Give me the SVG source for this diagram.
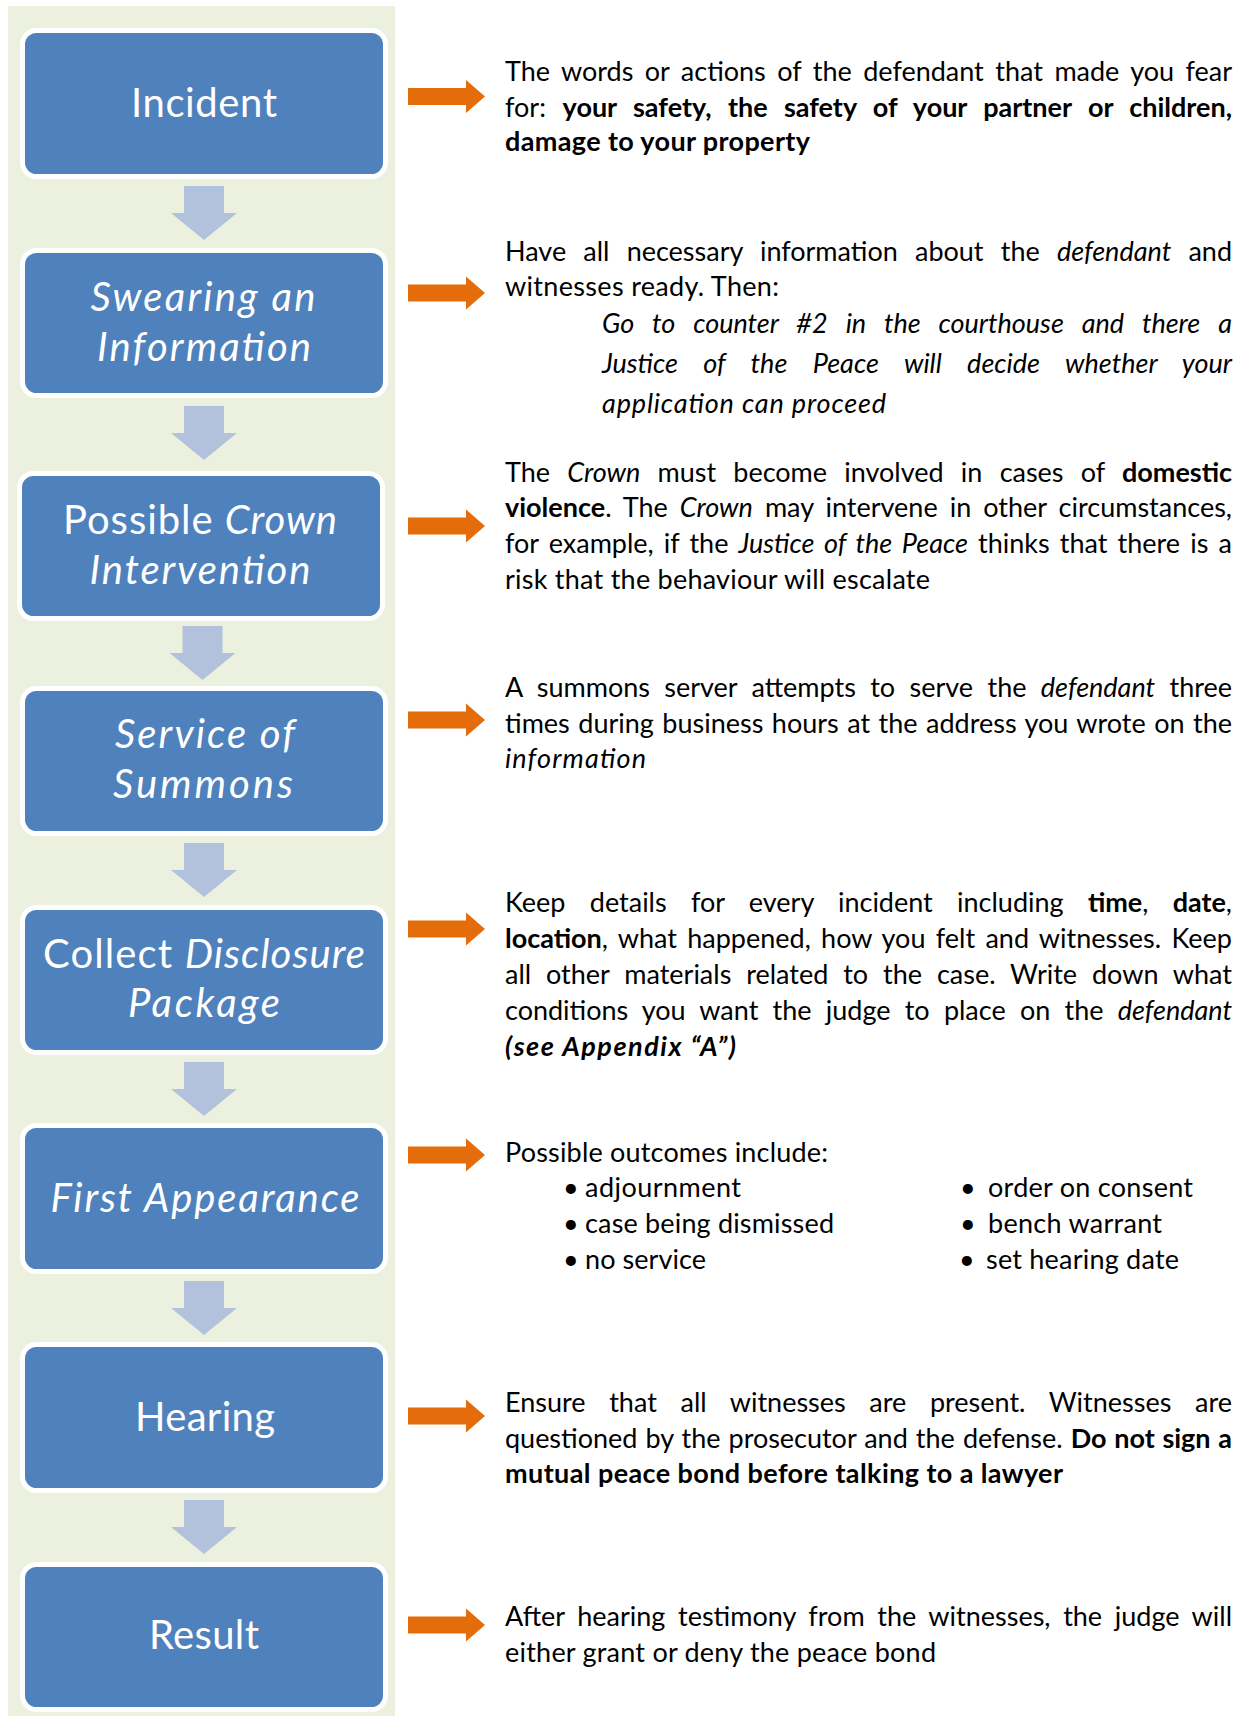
<svg xmlns="http://www.w3.org/2000/svg" xmlns:xlink="http://www.w3.org/1999/xlink" width="1242" height="1716" viewBox="0 0 1242 1716">
<style>
.bg{fill:#EBF1DE}
.box{fill:#4F81BD;stroke:#FFFFFF;stroke-width:5}
.bt{font-family:Lato,"Open Sans",sans-serif;font-size:40px;fill:#FFFFFF;text-anchor:middle}
.t{font-family:Lato,"Open Sans",sans-serif;font-size:27px;fill:#000000}
.i{font-style:italic}
.b{font-weight:bold}
.dn{fill:#B2C2DC}
.or{fill:#E46C0A}
</style>
<defs>
<path id="down" d="M-20,0 H20 V27 H33 L0,54 L-33,27 H-20 Z"/>
<path id="right" d="M0,-8.5 H58 V-16.5 L77,0 L58,16.5 V8.5 H0 Z"/>
</defs>
<rect class="bg" x="8" y="6" width="387" height="1710"/>

<g id="connectors">
<use xlink:href="#down" class="dn" x="204" y="186"/>
<use xlink:href="#down" class="dn" x="204" y="406"/>
<use xlink:href="#down" class="dn" x="202.5" y="626"/>
<use xlink:href="#down" class="dn" x="204" y="843"/>
<use xlink:href="#down" class="dn" x="204" y="1062"/>
<use xlink:href="#down" class="dn" x="204" y="1281"/>
<use xlink:href="#down" class="dn" x="204" y="1500"/>
<use xlink:href="#right" class="or" x="408" y="96.5"/>
<use xlink:href="#right" class="or" x="408" y="293"/>
<use xlink:href="#right" class="or" x="408" y="526"/>
<use xlink:href="#right" class="or" x="408" y="720"/>
<use xlink:href="#right" class="or" x="408" y="929"/>
<use xlink:href="#right" class="or" x="408" y="1155"/>
<use xlink:href="#right" class="or" x="408" y="1416"/>
<use xlink:href="#right" class="or" x="408" y="1625"/>
</g>

<g id="incident">
<rect class="box" x="22.5" y="30.5" width="363" height="146" rx="14"/>
<text class="bt" x="204" y="117" textLength="146">Incident</text>
</g>
<g id="swearing">
<rect class="box" x="22.5" y="250.5" width="363" height="145" rx="14"/>
<text class="bt i" x="203" y="311" textLength="225">Swearing an</text>
<text class="bt i" x="204" y="361" textLength="214">Information</text>
</g>
<g id="crown">
<rect class="box" x="19.5" y="473.5" width="363" height="145" rx="14"/>
<text class="bt" x="200" y="534" textLength="274">Possible <tspan class="i">Crown</tspan></text>
<text class="bt i" x="200" y="584" textLength="221">Intervention</text>
</g>
<g id="service">
<rect class="box" x="22.5" y="688.5" width="363" height="145" rx="14"/>
<text class="bt i" x="205" y="748" textLength="180">Service of</text>
<text class="bt i" x="203" y="798" textLength="180">Summons</text>
</g>
<g id="disclosure">
<rect class="box" x="22.5" y="907.5" width="363" height="145" rx="14"/>
<text class="bt" x="204" y="968" textLength="322">Collect <tspan class="i">Disclosure</tspan></text>
<text class="bt i" x="204" y="1017" textLength="152">Package</text>
</g>
<g id="first-appearance">
<rect class="box" x="22.5" y="1125.5" width="363" height="146" rx="14"/>
<text class="bt i" x="205" y="1212" textLength="309">First Appearance</text>
</g>
<g id="hearing">
<rect class="box" x="22.5" y="1344.5" width="363" height="146" rx="14"/>
<text class="bt" x="205" y="1431" textLength="140">Hearing</text>
</g>
<g id="result">
<rect class="box" x="22.5" y="1564.5" width="363" height="145" rx="14"/>
<text class="bt" x="204" y="1649" textLength="110">Result</text>
</g>

<g id="text-incident">
<text class="t" x="505" y="81" style="word-spacing:4.6px" textLength="727">The words or actions of the defendant that made you fear</text>
<text class="t" x="505" y="117" style="word-spacing:9.8px" textLength="727">for: <tspan class="b">your safety, the safety of your partner or children,</tspan></text>
<text class="t b" x="505" y="151" textLength="305">damage to your property</text>
</g>
<g id="text-swearing">
<text class="t" x="505" y="261" style="word-spacing:10.3px" textLength="727">Have all necessary information about the <tspan class="i">defendant</tspan> and</text>
<text class="t" x="505" y="296" textLength="274">witnesses ready. Then:</text>
<text class="t i" x="602" y="333" style="word-spacing:11.7px" textLength="630">Go to counter #2 in the courthouse and there a</text>
<text class="t i" x="602" y="373" style="word-spacing:19px" textLength="630">Justice of the Peace will decide whether your</text>
<text class="t i" x="602" y="413" textLength="284">application can proceed</text>
</g>
<g id="text-crown">
<text class="t" x="505" y="482" style="word-spacing:10.4px" textLength="727">The <tspan class="i">Crown</tspan> must become involved in cases of <tspan class="b">domestic</tspan></text>
<text class="t" x="505" y="517" style="word-spacing:5.1px" textLength="727"><tspan class="b">violence</tspan>. The <tspan class="i">Crown</tspan> may intervene in other circumstances,</text>
<text class="t" x="505" y="553" style="word-spacing:3.25px" textLength="727">for example, if the <tspan class="i">Justice of the Peace</tspan> thinks that there is a</text>
<text class="t" x="505" y="589" textLength="425">risk that the behaviour will escalate</text>
</g>
<g id="text-service">
<text class="t" x="505" y="697" style="word-spacing:7.5px" textLength="727">A summons server attempts to serve the <tspan class="i">defendant</tspan> three</text>
<text class="t" x="505" y="733" style="word-spacing:1.6px" textLength="727">times during business hours at the address you wrote on the</text>
<text class="t i" x="505" y="768" textLength="141">information</text>
</g>
<g id="text-disclosure">
<text class="t" x="505" y="912" style="word-spacing:17.4px" textLength="727">Keep details for every incident including <tspan class="b">time</tspan>, <tspan class="b">date</tspan>,</text>
<text class="t" x="505" y="948" style="word-spacing:3.4px" textLength="727"><tspan class="b">location</tspan>, what happened, how you felt and witnesses. Keep</text>
<text class="t" x="505" y="984" style="word-spacing:8px" textLength="727">all other materials related to the case. Write down what</text>
<text class="t" x="505" y="1020" style="word-spacing:7.4px" textLength="727">conditions you want the judge to place on the <tspan class="i">defendant</tspan></text>
<text class="t b i" x="505" y="1056" textLength="231">(see Appendix “A”)</text>
</g>
<g id="text-first-appearance">
<text class="t" x="505" y="1162" textLength="323">Possible outcomes include:</text>
<text class="t" x="563" y="1197">•</text>
<text class="t" x="585" y="1197" textLength="156">adjournment</text>
<text class="t" x="563" y="1233">•</text>
<text class="t" x="585" y="1233" textLength="249">case being dismissed</text>
<text class="t" x="563" y="1269">•</text>
<text class="t" x="585" y="1269" textLength="121">no service</text>
<text class="t" x="960" y="1197">•</text>
<text class="t" x="988" y="1197" textLength="205">order on consent</text>
<text class="t" x="960" y="1233">•</text>
<text class="t" x="988" y="1233" textLength="174">bench warrant</text>
<text class="t" x="959" y="1269">•</text>
<text class="t" x="986" y="1269" textLength="193">set hearing date</text>
</g>
<g id="text-hearing">
<text class="t" x="505" y="1412" style="word-spacing:16.7px" textLength="727">Ensure that all witnesses are present. Witnesses are</text>
<text class="t" x="505" y="1448" style="word-spacing:1.2px" textLength="727">questioned by the prosecutor and the defense. <tspan class="b">Do not sign a</tspan></text>
<text class="t b" x="505" y="1483" textLength="558">mutual peace bond before talking to a lawyer</text>
</g>
<g id="text-result">
<text class="t" x="505" y="1626" style="word-spacing:5.75px" textLength="727">After hearing testimony from the witnesses, the judge will</text>
<text class="t" x="505" y="1662" textLength="431">either grant or deny the peace bond</text>
</g>
</svg>
